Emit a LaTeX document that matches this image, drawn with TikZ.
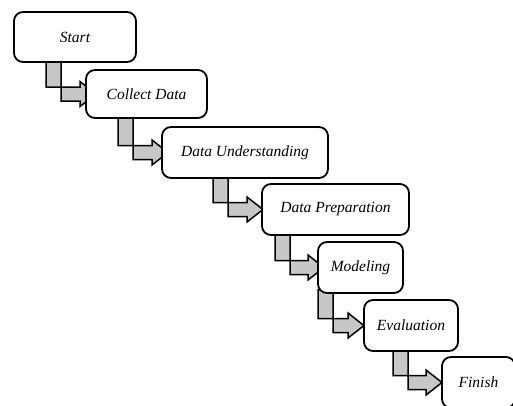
\documentclass[tikz,border=0pt]{standalone}
\usepackage{fontspec}
\setmainfont{Liberation Serif}
\usetikzlibrary{calc,backgrounds}
\tikzset{
	stepbox/.style={draw, line width=1.8pt, rounded corners=9pt, fill=white, inner sep=0pt,
		font=\itshape\fontsize{15.5}{18}\selectfont},
	stepshaft/.style={draw, line width=1.5pt, fill=black!22, line join=miter}
}
% L-shaped block arrow: from bottom of #1 to left side of #2, shaft at x=#3, head starts at x=#4
\def\steparrow(#1)(#2)(#3:#4){\draw[stepshaft] let \p1=(#1.south), \p2=(#2.west) in
	(#3pt,\y1+4pt) -- (#3pt,\y2+7pt) -- (#4pt,\y2+7pt) -- (#4pt,\y2+12.5pt) -- (#4pt+16pt,\y2)
	-- (#4pt,\y2-12.5pt) -- (#4pt,\y2-7pt) -- (#3pt+15pt,\y2-7pt) -- (#3pt+15pt,\y1+4pt) -- cycle;}

\begin{document}
\begin{tikzpicture}[x=1pt, y=-1pt]
			%%%%% START %%%%%
			\clip (0, 0) rectangle (513, 405);
			
			\node[stepbox, minimum width=122pt, minimum height=50pt] (start) at (75, 37) {Start};
			\node[stepbox, minimum width=121pt, minimum height=48pt] (collect) at (146.5, 94) {Collect Data};
			\node[stepbox, minimum width=166pt, minimum height=51pt] (understand) at (245, 152.5) {Data Understanding};
			\node[stepbox, minimum width=147pt, minimum height=51pt] (prepare) at (335.5, 209.5) {Data Preparation};
			\node[stepbox, minimum width=85pt, minimum height=51pt] (model) at (360.5, 267.5) {Modeling};
			\node[stepbox, minimum width=94pt, minimum height=51pt] (evaluate) at (411, 325.5) {Evaluation};
			\node[stepbox, minimum width=73pt, minimum height=51pt] (finish) at (478.5, 382.5) {Finish};
			
			\begin{pgfonlayer}{background}
				\steparrow(start)(collect)(46:80)
				\steparrow(collect)(understand)(118:152)
				\steparrow(understand)(prepare)(213:247)
				\steparrow(prepare)(model)(275:308)
				\steparrow(model)(evaluate)(318:348)
				\steparrow(evaluate)(finish)(393:426)
			\end{pgfonlayer}
			
			%%%%% END %%%%%
\end{tikzpicture}
\end{document}
